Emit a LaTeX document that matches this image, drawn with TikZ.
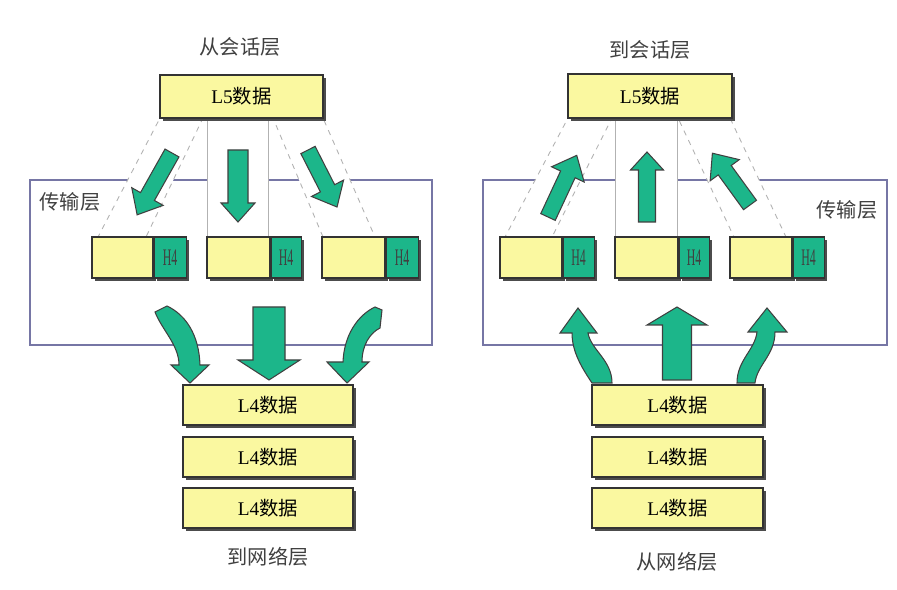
\documentclass[tikz,border=0pt]{standalone}
\usepackage{fontspec}
\setmainfont{Liberation Serif}
\newfontfamily\cjk{Noto Sans CJK SC}
\usetikzlibrary{shadows}
\definecolor{boxyellow}{RGB}{250,248,160}
\definecolor{hgreen}{RGB}{28,182,138}
\definecolor{framecol}{RGB}{118,118,165}
\tikzset{
  databox/.style={draw=black!80, fill=boxyellow, line width=0.6pt, inner sep=0pt,
    drop shadow={fill=black!70, opacity=1, shadow xshift=1.6pt, shadow yshift=-1.6pt},
    font=\fontsize{11}{12}\selectfont},
  hdrbox/.style={databox, fill=hgreen, font=\fontsize{13.5}{14}\selectfont\color{black!75}},
  layerframe/.style={draw=framecol, line width=1.2pt, fill=white},
  gapband/.style={fill=white, draw=black!30, dashed, line width=0.5pt},
  colband/.style={fill=white, draw=black!30, line width=0.5pt},
  arrowbody/.style={fill=hgreen, draw=black!75, line width=0.6pt, line join=miter},
  layerlabel/.style={font=\cjk\fontsize{11.5}{12}\selectfont, text=black!75},
  pics/garrow/.style args={#1/#2/#3/#4}{code={
    \filldraw[arrowbody] (-#2,0) -- (-#2,#1-#4) -- (-#3,#1-#4) -- (0,#1) -- (#3,#1-#4) -- (#2,#1-#4) -- (#2,0) -- cycle;
  }},
}

\begin{document}
\begin{tikzpicture}[x=0.02cm, y=-0.02cm]
\useasboundingbox (0,0) rectangle (897,590);
% left: sending side
\draw[layerframe] (30,180) rectangle (432,345);
\draw[gapband] (160,118) -- (203,118) -- (146,237) -- (98,237) -- cycle;
\draw[gapband] (273,118) -- (323,118) -- (375,237) -- (323,237) -- cycle;
\draw[colband] (207,118) rectangle (268,237);
\node[layerlabel] (fromsess) at (240,47) {从会话层};
\node[layerlabel] (translft) at (70,202) {传输层};
\node[databox, minimum width=3.26cm, minimum height=0.86cm] (l5from) at (241.5,96.5) {L5{\cjk 数据}};
\node[databox, minimum width=1.22cm, minimum height=0.82cm] (sega) at (122.5,257.5) {};
\node[hdrbox, minimum width=0.64cm, minimum height=0.82cm, anchor=west] (hdra) at (sega.east) {\scalebox{0.5}[1]{H4}};
\node[databox, minimum width=1.26cm, minimum height=0.82cm] (segb) at (238.5,257.5) {};
\node[hdrbox, minimum width=0.60cm, minimum height=0.82cm, anchor=west] (hdrb) at (segb.east) {\scalebox{0.5}[1]{H4}};
\node[databox, minimum width=1.26cm, minimum height=0.82cm] (segc) at (353.5,257.5) {};
\node[hdrbox, minimum width=0.64cm, minimum height=0.82cm, anchor=west] (hdrc) at (segc.east) {\scalebox{0.5}[1]{H4}};
\pic[rotate=-29.4] at (172,153) {garrow=71/8/18/21};
\pic at (238,150) {garrow=72/10/17/19};
\pic[rotate=27] at (308,150) {garrow=64/8/18/21};
\pic at (269,307) {garrow=73/16/31/20};
\filldraw[arrowbody] (155,312) .. controls (162,330) and (179,345) .. (179,365) -- (171,365) -- (190,383)
  -- (209,365) -- (200,365) .. controls (199,335) and (186,315) .. (167,306) -- cycle;
\filldraw[arrowbody] (343,362) .. controls (344,335) and (358,315) .. (375,307) -- (382,310) -- (380,328)
  .. controls (370,333) and (362,345) .. (362,362) -- (369,362) -- (347,383) -- (327,362) -- cycle;
\node[databox, minimum width=3.4cm, minimum height=0.8cm] (l4outa) at (268,405) {L4{\cjk 数据}};
\node[databox, minimum width=3.4cm, minimum height=0.8cm] (l4outb) at (268,457) {L4{\cjk 数据}};
\node[databox, minimum width=3.4cm, minimum height=0.8cm] (l4outc) at (268,508) {L4{\cjk 数据}};
\node[layerlabel] (tonet) at (268,557) {到网络层};
% right: receiving side
\draw[layerframe] (483,180) rectangle (887,345);
\draw[gapband] (568,118) -- (612,118) -- (552,237) -- (505,237) -- cycle;
\draw[gapband] (678,118) -- (730,118) -- (786,237) -- (734,237) -- cycle;
\draw[colband] (615,118) rectangle (677,237);
\node[layerlabel] (tosess) at (650,50) {到会话层};
\node[layerlabel] (transrgt) at (847,210) {传输层};
\node[databox, minimum width=3.28cm, minimum height=0.88cm] (l5to) at (650,96) {L5{\cjk 数据}};
\node[databox, minimum width=1.24cm, minimum height=0.82cm] (segd) at (531,257.5) {};
\node[hdrbox, minimum width=0.62cm, minimum height=0.82cm, anchor=west] (hdrd) at (segd.east) {\scalebox{0.5}[1]{H4}};
\node[databox, minimum width=1.26cm, minimum height=0.82cm] (sege) at (646.5,257.5) {};
\node[hdrbox, minimum width=0.60cm, minimum height=0.82cm, anchor=west] (hdre) at (sege.east) {\scalebox{0.5}[1]{H4}};
\node[databox, minimum width=1.24cm, minimum height=0.82cm] (segf) at (761,257.5) {};
\node[hdrbox, minimum width=0.62cm, minimum height=0.82cm, anchor=west] (hdrf) at (segf.east) {\scalebox{0.5}[1]{H4}};
\pic[rotate=155] at (548,217) {garrow=68/8/18/21};
\pic[rotate=180] at (647,222) {garrow=70/8.5/16.5/18};
\pic[rotate=216] at (750,205) {garrow=64/8/18/21};
\pic[rotate=180] at (677,380) {garrow=73/14.5/30/18};
\filldraw[arrowbody] (592,383) .. controls (582,368) and (572,352) .. (572,333) -- (560,333) -- (578,308)
  -- (597,333) -- (588,333) .. controls (591,350) and (612,360) .. (612,383) -- cycle;
\filldraw[arrowbody] (737,383) .. controls (737,360) and (755,350) .. (757,332) -- (748,332) -- (767,308)
  -- (787,332) -- (775,332) .. controls (775,355) and (757,365) .. (755,383) -- cycle;
\node[databox, minimum width=3.42cm, minimum height=0.8cm] (l4ina) at (677.5,405) {L4{\cjk 数据}};
\node[databox, minimum width=3.42cm, minimum height=0.8cm] (l4inb) at (677.5,457) {L4{\cjk 数据}};
\node[databox, minimum width=3.42cm, minimum height=0.8cm] (l4inc) at (677.5,508) {L4{\cjk 数据}};
\node[layerlabel] (fromnet) at (677,562) {从网络层};
\end{tikzpicture}
\end{document}
